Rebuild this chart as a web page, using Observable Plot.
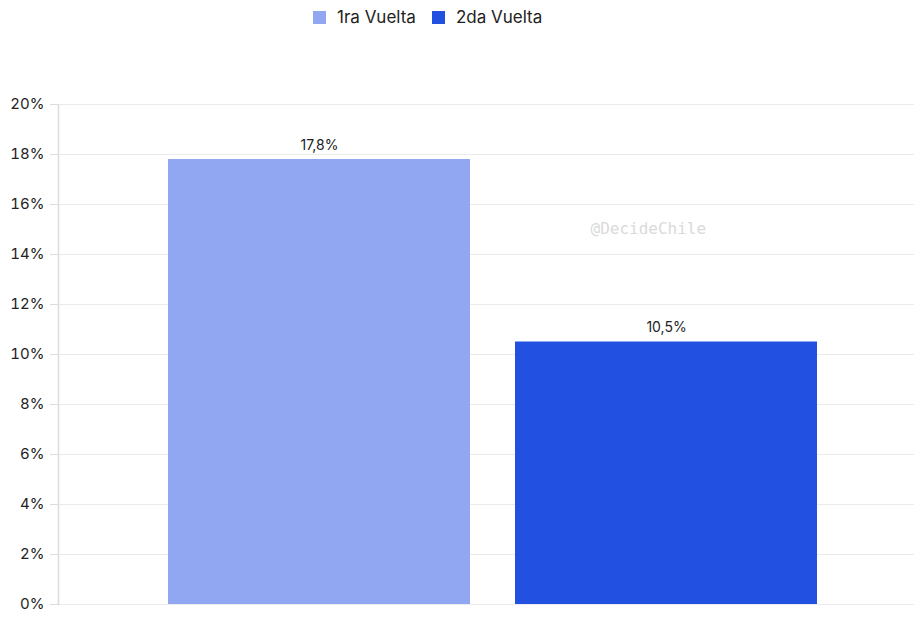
<!DOCTYPE html>
<html>
<head>
<meta charset="utf-8">
<script src="https://cdn.jsdelivr.net/npm/d3@7"></script>
<script src="https://cdn.jsdelivr.net/npm/@observablehq/plot@0.6"></script>
<style>
  html, body { margin: 0; padding: 0; background: #fff; }
  body { width: 914px; height: 637px; overflow: hidden; font-family: Inter, "Noto Sans", sans-serif; }
  #legend { height: 34px; display: flex; align-items: center; padding-left: 313px; box-sizing: border-box; font-size: 17px; color: #222; }
  .item { display: flex; align-items: center; margin-right: 16px; }
  .sw { width: 13px; height: 13px; margin-right: 11px; }
</style>
</head>
<body>
<div id="legend"></div>
<div id="chart"></div>
<script>
const categories = ["1ra Vuelta", "2da Vuelta"];
const values = [17.8, 10.5];
const labels = ["17,8%", "10,5%"];
const colors = ["#91a7f2", "#2250e0"];
const yTicks = [0, 2, 4, 6, 8, 10, 12, 14, 16, 18, 20];
const watermark = ["@DecideChile"];

const data = categories.map((c, i) => ({cat: c, value: values[i], label: labels[i]}));

const legend = document.getElementById("legend");
categories.forEach((c, i) => {
  const it = document.createElement("div");
  it.className = "item";
  it.innerHTML = `<div class="sw" style="background:${colors[i]}"></div><span>${c}</span>`;
  legend.appendChild(it);
});

const chart = Plot.plot({
  width: 914,
  height: 603,
  marginTop: 70,
  marginBottom: 33,
  marginLeft: 58,
  marginRight: 0,
  style: {fontFamily: "Inter, 'Noto Sans', sans-serif", fontSize: "15px", color: "#222", background: "#fff"},
  x: {domain: categories, range: [58, 926], paddingInner: 0.131, paddingOuter: 0.315, axis: null},
  y: {domain: [0, 20], axis: null},
  color: {domain: categories, range: colors},
  marks: [
    Plot.gridY(yTicks, {stroke: "#ebebeb", strokeOpacity: 1, strokeWidth: 1}),
    Plot.barY(data, {x: "cat", y: "value", fill: "cat"}),
    Plot.frame({anchor: "left", stroke: "#dcdcdc", strokeWidth: 1.5}),
    Plot.axisY(yTicks, {tickFormat: d => d + "%", tickSize: 8, stroke: "#dcdcdc", tickPadding: 6, fill: "#222", fontSize: 15, label: null}),
    Plot.text(data, {x: "cat", y: "value", text: "label", dy: -14, fill: "#222", fontSize: 14}),
    Plot.text(watermark, {text: d => d, frameAnchor: "top-left", dx: 532, dy: 118, textAnchor: "start", fill: "#dadada", fontSize: 16, fontFamily: "'DejaVu Sans Mono', monospace"})
  ]
});
document.getElementById("chart").appendChild(chart);
</script>
</body>
</html>
